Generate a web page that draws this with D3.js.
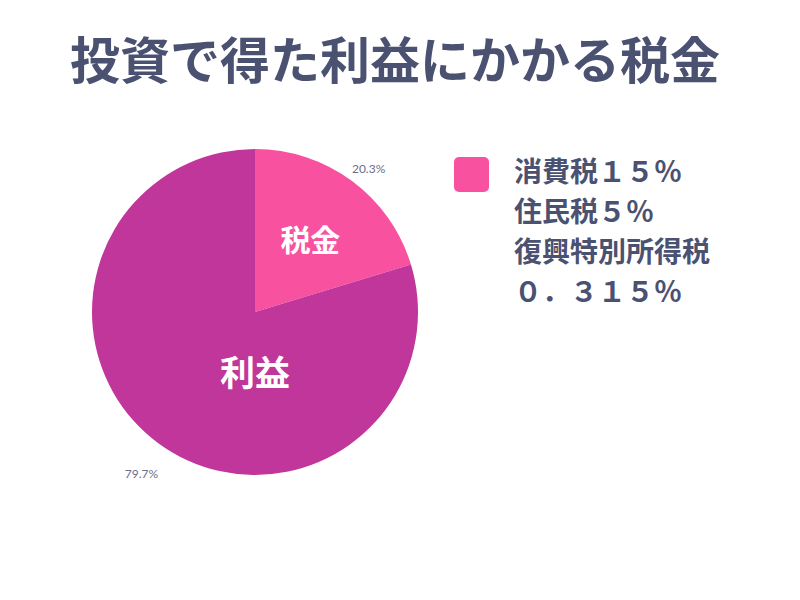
<!DOCTYPE html>
<html><head><meta charset="utf-8">
<script src="https://cdn.jsdelivr.net/npm/d3@7"></script>
<style>body{margin:0;background:#fff}</style>
</head><body>
<svg id="c" width="800" height="600"></svg>
<script>
const title = "投資で得た利益にかかる税金";
const categories = ["税金", "利益"];
const values = [20.3, 79.7];
const valueLabels = ["20.3%", "79.7%"];
const colors = ["#F7519F", "#C0369A"];
const legendLines = ["消費税１５％", "住民税５％", "復興特別所得税", "０．３１５％"];

const svg = d3.select("#c");
const font = "'Noto Sans CJK JP', 'Noto Sans', sans-serif";
const cx = 255, cy = 312, r = 163;

svg.append("text").attr("x", 395).attr("y", 79).attr("text-anchor", "middle")
  .attr("font-family", font).attr("font-weight", 700).attr("font-size", 50)
  .attr("fill", "#4B5170").text(title);

const pie = d3.pie().sort(null).value(d => d)(values);
const arc = d3.arc().innerRadius(0).outerRadius(r);
const g = svg.append("g").attr("transform", `translate(${cx},${cy})`);
g.selectAll("path").data(pie).join("path").attr("d", arc)
  .attr("fill", (d, i) => colors[i]);

// outer value labels
const outer = d3.arc().innerRadius(r * 1.15).outerRadius(r * 1.15);
g.selectAll("text.v").data(pie).join("text").attr("class", "v")
  .attr("transform", (d, i) => {
    const [x, y] = outer.centroid(d);
    return `translate(${x + (i ? -2 : 2)},${y + (i ? 11 : 7)})`;
  })
  .attr("text-anchor", "middle").attr("dominant-baseline", "central")
  .attr("font-family", "Lato, 'Open Sans', sans-serif").attr("font-size", 12)
  .attr("fill", "#6B6F8A").text((d, i) => valueLabels[i]);

// inner category labels
const inner0 = d3.arc().innerRadius(r * 0.55).outerRadius(r * 0.55);
const p0 = inner0.centroid(pie[0]);
g.append("text").attr("x", p0[0] + 2).attr("y", p0[1] - 2).attr("text-anchor", "middle")
  .attr("dominant-baseline", "central").attr("font-family", font).attr("font-weight", 700)
  .attr("font-size", 30).attr("fill", "#fff").text(categories[0]);
g.append("text").attr("x", 0).attr("y", r * 0.36).attr("text-anchor", "middle")
  .attr("dominant-baseline", "central").attr("font-family", font).attr("font-weight", 700)
  .attr("font-size", 35).attr("fill", "#fff").text(categories[1]);

// legend
svg.append("rect").attr("x", 454).attr("y", 157).attr("width", 35).attr("height", 35)
  .attr("rx", 5).attr("fill", colors[0]);
svg.selectAll("text.l").data(legendLines).join("text").attr("class", "l")
  .attr("x", 514).attr("y", (d, i) => 182 + i * 40)
  .attr("font-family", font).attr("font-weight", 700).attr("font-size", 28)
  .attr("fill", "#4B5170").text(d => d);
</script>
</body></html>
